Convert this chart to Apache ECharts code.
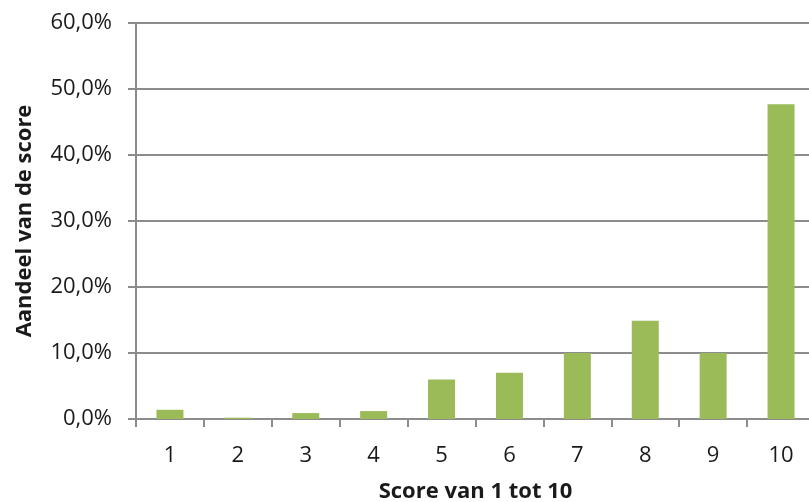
<!DOCTYPE html>
<html>
<head>
<meta charset="utf-8">
<script src="https://cdn.jsdelivr.net/npm/echarts@6/dist/echarts.min.js"></script>
<style>html,body{margin:0;padding:0;background:#fff;}#c{width:809px;height:502px;}</style>
</head>
<body>
<div id="c"></div>
<script>
const categories = ['1','2','3','4','5','6','7','8','9','10'];
const shares = [1.4, 0.2, 0.9, 1.2, 6.0, 7.0, 10.0, 14.9, 10.0, 47.7];
const xTitle = 'Score van 1 tot 10';
const yTitle = 'Aandeel van de score';

const font = 'Open Sans, Liberation Sans, sans-serif';
const gridColor = '#8c8c8c';
const chart = echarts.init(document.getElementById('c'), null, {renderer: 'canvas'});
chart.setOption({
  animation: false,
  grid: {left: 136, right: -6, top: 23, bottom: 83, containLabel: false, outerBoundsMode: 'none'},
  xAxis: {
    type: 'category',
    data: categories,
    name: xTitle,
    nameLocation: 'middle',
    nameGap: 62,
    nameTextStyle: {fontFamily: font, fontSize: 22, fontWeight: 'bold', color: '#1a1a1a'},
    axisLine: {lineStyle: {color: gridColor, width: 2}},
    axisTick: {show: true, length: 8, lineStyle: {color: gridColor, width: 2}},
    axisLabel: {fontFamily: font, fontSize: 22, color: '#1a1a1a', margin: 26}
  },
  yAxis: {
    type: 'value',
    min: 0, max: 60, interval: 10,
    name: yTitle,
    nameLocation: 'middle',
    nameGap: 100,
    nameTextStyle: {fontFamily: font, fontSize: 22, fontWeight: 'bold', color: '#1a1a1a'},
    axisLine: {show: true, lineStyle: {color: gridColor, width: 2}},
    axisTick: {show: true, length: 8, lineStyle: {color: gridColor, width: 2}},
    splitLine: {show: true, lineStyle: {color: gridColor, width: 2}},
    axisLabel: {
      fontFamily: font, fontSize: 22, color: '#1a1a1a', margin: 24,
      formatter: v => v.toFixed(1).replace('.', ',') + '%'
    }
  },
  series: [{
    type: 'bar',
    data: shares,
    barWidth: 27,
    itemStyle: {color: '#9BBB59'}
  }]
});
</script>
</body>
</html>
